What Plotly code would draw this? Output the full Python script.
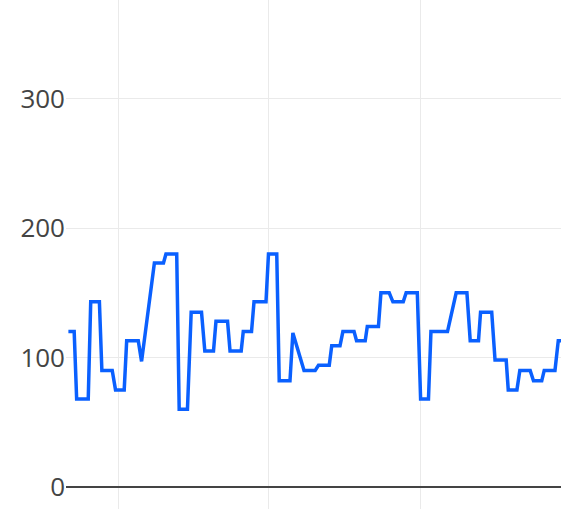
import plotly.graph_objects as go

dates = [
    "2014-09-03", "2014-09-17", "2014-09-23", "2014-10-21", "2014-10-27",
    "2014-11-17", "2014-11-23", "2014-12-18", "2014-12-26", "2015-01-16",
    "2015-01-22", "2015-02-19", "2015-02-27", "2015-03-30", "2015-04-21",
    "2015-04-27", "2015-05-23", "2015-05-29", "2015-06-18", "2015-06-27",
    "2015-07-22", "2015-07-30", "2015-08-20", "2015-08-26", "2015-09-23",
    "2015-09-29", "2015-10-26", "2015-10-31", "2015-11-20", "2015-11-26",
    "2015-12-25", "2015-12-31", "2016-01-20", "2016-01-26", "2016-02-21",
    "2016-02-28", "2016-03-26", "2016-04-22", "2016-04-30", "2016-05-26",
    "2016-06-01", "2016-06-21", "2016-06-28", "2016-07-25", "2016-07-31",
    "2016-08-21", "2016-08-26", "2016-09-22", "2016-09-28", "2016-10-18",
    "2016-10-27", "2016-11-21", "2016-11-28", "2016-12-25", "2017-01-02",
    "2017-01-21", "2017-01-27", "2017-03-08", "2017-03-29", "2017-04-24",
    "2017-05-02", "2017-05-22", "2017-05-27", "2017-06-23", "2017-07-01",
    "2017-07-28", "2017-08-02", "2017-08-23", "2017-08-30", "2017-09-24",
    "2017-10-02", "2017-10-22", "2017-10-28", "2017-11-23", "2017-12-01",
    "2017-12-20",
]

values = [
    120, 120, 68, 68, 143,
    143, 90, 90, 75, 75,
    113, 113, 97, 173, 173,
    180, 180, 60, 60, 135,
    135, 105, 105, 128, 128,
    105, 105, 120, 120, 143,
    143, 180, 180, 82, 82,
    119, 90, 90, 94, 94,
    109, 109, 120, 120, 113,
    113, 124, 124, 150, 150,
    143, 143, 150, 150, 68,
    68, 120, 120, 150, 150,
    113, 113, 135, 135, 98,
    98, 75, 75, 90, 90,
    82, 82, 90, 90, 113,
    113,
]

y_ticks = [0, 100, 200, 300]

fig = go.Figure(
    go.Scatter(
        x=dates,
        y=values,
        mode="lines",
        line=dict(color="#0a60ff", width=3.5),
        showlegend=False,
    )
)

fig.update_layout(
    template="none",
    width=561,
    height=509,
    margin=dict(l=66, r=0, t=0, b=0),
    paper_bgcolor="white",
    plot_bgcolor="white",
    font=dict(family="Open Sans", size=26, color="#444"),
    xaxis=dict(
        type="date",
        range=["2014-08-28 05:00", "2017-12-07 14:00"],
        dtick="M12",
        tick0="2015-01-01",
        showgrid=True,
        gridcolor="#eaeaea",
        showticklabels=False,
        zeroline=False,
        showline=False,
    ),
    yaxis=dict(
        range=[-17, 376.1],
        tickvals=y_ticks,
        showgrid=True,
        gridcolor="#eaeaea",
        zeroline=True,
        zerolinecolor="#444",
        zerolinewidth=2,
        showline=False,
    ),
)

fig.write_html(
    "out.html",
    config={"displayModeBar": False},
    post_script="document.body.style.margin='0';document.body.style.overflow='hidden';",
)
